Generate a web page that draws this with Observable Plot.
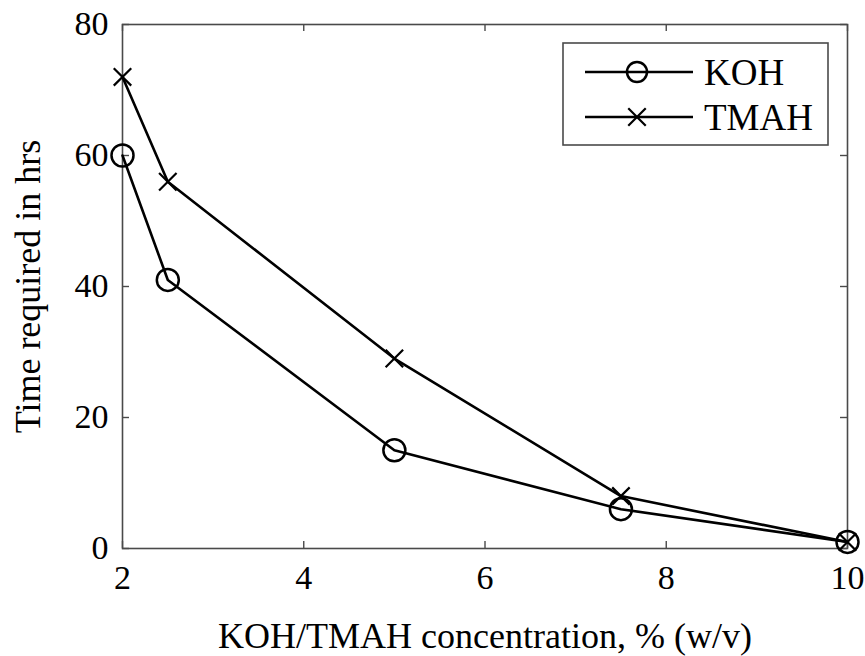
<!DOCTYPE html>
<html>
<head>
<meta charset="utf-8">
<script src="https://cdn.jsdelivr.net/npm/d3@7"></script>
<script src="https://cdn.jsdelivr.net/npm/@observablehq/plot@0.6"></script>
<style>
  html, body { margin: 0; padding: 0; background: white; }
</style>
</head>
<body>
<div id="chart"></div>
<script>
const concentration = [2, 2.5, 5, 7.5, 10];
const kohHours = [60, 41, 15, 6, 1];
const tmahHours = [72, 56, 29, 8, 1];
const seriesNames = ["KOH", "TMAH"];
const xTicks = [2, 4, 6, 8, 10];
const yTicks = [0, 20, 40, 60, 80];
const xLabel = "KOH/TMAH concentration, % (w/v)";
const yLabel = "Time required in hrs";

const koh = concentration.map((c, i) => ({x: c, y: kohHours[i]}));
const tmah = concentration.map((c, i) => ({x: c, y: tmahHours[i]}));

const W = 865, H = 656, mL = 122, mR = 18, mT = 24, mB = 108;
const innerW = W - mL - mR, innerH = H - mT - mB;
const tickLen = 7;
const axisColor = "#4a4a4a";
const font = "Liberation Serif, Times New Roman, serif";

function legendMark(index, scales, values, dims) {
  const g = d3.create("svg:g");
  const boxW = 265, boxH = 102;
  const x0 = dims.width - dims.marginRight - 19 - boxW;
  const y0 = dims.marginTop + 19;
  g.append("rect").attr("x", x0).attr("y", y0).attr("width", boxW).attr("height", boxH)
    .attr("fill", "white").attr("stroke", axisColor).attr("stroke-width", 1.6);
  const rows = [29, 74];
  seriesNames.forEach((name, i) => {
    const yy = y0 + rows[i];
    g.append("line").attr("x1", x0 + 22).attr("x2", x0 + 130).attr("y1", yy).attr("y2", yy)
      .attr("stroke", "black").attr("stroke-width", 2.6);
    if (i === 0) {
      g.append("circle").attr("cx", x0 + 74).attr("cy", yy).attr("r", 10)
        .attr("fill", "none").attr("stroke", "black").attr("stroke-width", 2.5);
    } else {
      g.append("path").attr("transform", `translate(${x0 + 74},${yy})`)
        .attr("d", d3.symbol(d3.symbolTimes, Math.PI * 8 * 8)())
        .attr("fill", "none").attr("stroke", "black").attr("stroke-width", 2.2);
    }
    g.append("text").attr("x", x0 + 141).attr("y", yy).attr("dy", "0.34em")
      .attr("text-anchor", "start")
      .attr("font-family", "Liberation Serif").attr("font-size", 37).attr("fill", "black").text(name);
  });
  return g.node();
}

const chart = Plot.plot({
  width: W, height: H,
  marginLeft: mL, marginRight: mR, marginTop: mT, marginBottom: mB,
  style: {fontFamily: font, background: "white", color: "black"},
  x: {domain: [2, 10]},
  y: {domain: [0, 80]},
  marks: [
    Plot.frame({stroke: axisColor, strokeWidth: 1.6}),
    Plot.tickX(xTicks, {x: d => d, insetTop: innerH - tickLen, stroke: axisColor, strokeWidth: 1.4}),
    Plot.tickX(xTicks, {x: d => d, insetBottom: innerH - tickLen, stroke: axisColor, strokeWidth: 1.4}),
    Plot.tickY(yTicks, {y: d => d, insetRight: innerW - tickLen, stroke: axisColor, strokeWidth: 1.4}),
    Plot.tickY(yTicks, {y: d => d, insetLeft: innerW - tickLen, stroke: axisColor, strokeWidth: 1.4}),
    Plot.axisX({ticks: xTicks, tickSize: 0, tickPadding: 16, fontSize: 34, label: null, fill: "black"}),
    Plot.axisY({ticks: yTicks, tickSize: 0, tickPadding: 14, fontSize: 34, label: null, fill: "black"}),
    Plot.text([xLabel], {frameAnchor: "bottom", dy: 88, lineAnchor: "middle", textAnchor: "middle", fontSize: 36, fill: "black"}),
    Plot.text([yLabel], {frameAnchor: "left", dx: -94, rotate: -90, lineAnchor: "middle", textAnchor: "middle", fontSize: 36, fill: "black"}),
    Plot.line(koh, {x: "x", y: "y", stroke: "black", strokeWidth: 2.6}),
    Plot.line(tmah, {x: "x", y: "y", stroke: "black", strokeWidth: 2.6}),
    Plot.dot(koh, {x: "x", y: "y", r: 11, stroke: "black", strokeWidth: 2.5, fill: "none"}),
    Plot.dot(tmah, {x: "x", y: "y", r: 8, symbol: "times", stroke: "black", strokeWidth: 2.2}),
    legendMark
  ]
});
document.getElementById("chart").appendChild(chart);
</script>
</body>
</html>
